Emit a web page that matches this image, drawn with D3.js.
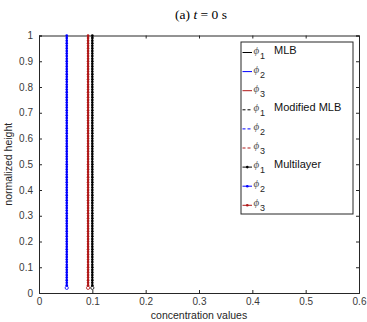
<!DOCTYPE html>
<html>
<head>
<meta charset="utf-8">
<script src="https://cdn.jsdelivr.net/npm/d3@7"></script>
<style>
  body { margin: 0; background: #fff; }
  text { font-family: "Liberation Sans", Arial, sans-serif; }
</style>
</head>
<body>
<svg id="chart" width="367" height="322"></svg>
<script>
// concentration of each component at t = 0 (constant over height)
const phiMLB = [0.1, 0.052, 0.092]
const phiModified = [0.1, 0.052, 0.092]
const phiMultilayer = [0.1, 0.052, 0.092]

// normalized heights of the layers
const heights = [
    0.02, 0.03, 0.04, 0.05, 0.06, 0.07, 0.08, 0.09, 0.10, 0.11, 0.12, 0.13, 0.14, 0.15, 0.16,
    0.17, 0.18, 0.19, 0.20, 0.21, 0.22, 0.23, 0.24, 0.25, 0.26, 0.27, 0.28, 0.29, 0.30, 0.31,
    0.32, 0.33, 0.34, 0.35, 0.36, 0.37, 0.38, 0.39, 0.40, 0.41, 0.42, 0.43, 0.44, 0.45, 0.46,
    0.47, 0.48, 0.49, 0.50, 0.51, 0.52, 0.53, 0.54, 0.55, 0.56, 0.57, 0.58, 0.59, 0.60, 0.61,
    0.62, 0.63, 0.64, 0.65, 0.66, 0.67, 0.68, 0.69, 0.70, 0.71, 0.72, 0.73, 0.74, 0.75, 0.76,
    0.77, 0.78, 0.79, 0.80, 0.81, 0.82, 0.83, 0.84, 0.85, 0.86, 0.87, 0.88, 0.89, 0.90, 0.91,
    0.92, 0.93, 0.94, 0.95, 0.96, 0.97, 0.98, 0.99, 1.00,
]

const xTicks = [0, 0.1, 0.2, 0.3, 0.4, 0.5, 0.6]
const yTicks = [0, 0.1, 0.2, 0.3, 0.4, 0.5, 0.6, 0.7, 0.8, 0.9, 1]
const componentNames = ["1", "2", "3"]
const colors = ["#000000", "#0000ff", "#b01818"]
const modelNames = ["MLB", "Modified MLB", "Multilayer"]

const svg = d3.select("#chart")
const m = { left: 39, right: 359, top: 35.5, bottom: 293 }

const x = d3.scaleLinear().domain([0, 0.6]).range([m.left, m.right])
const y = d3.scaleLinear().domain([0, 1]).range([m.bottom, m.top])

const axisColor = "#262626"
const tickFmt = (d) => (d === 0 || d === 1 ? String(d) : d.toFixed(1))

// axes with inward ticks (box on)
const ax = svg.append("g")
ax.append("g")
    .attr("transform", `translate(0,${m.bottom})`)
    .call(d3.axisBottom(x).tickValues(xTicks).tickSize(-3).tickPadding(5).tickFormat(tickFmt))
ax.append("g")
    .attr("transform", `translate(0,${m.top})`)
    .call(d3.axisTop(x).tickValues(xTicks).tickSize(-3).tickFormat(""))
ax.append("g")
    .attr("transform", `translate(${m.left},0)`)
    .call(d3.axisLeft(y).tickValues(yTicks).tickSize(-3).tickPadding(6).tickFormat(tickFmt))
ax.append("g")
    .attr("transform", `translate(${m.right},0)`)
    .call(d3.axisRight(y).tickValues(yTicks).tickSize(-3).tickFormat(""))
ax.selectAll(".domain").attr("stroke", axisColor).attr("stroke-width", 1)
ax.selectAll(".tick line").attr("stroke", axisColor)
ax.selectAll(".tick text").attr("fill", "#3a3a3a").style("font-size", "10px")
    .style("font-family", "'Liberation Sans', Arial, sans-serif")

const line = d3.line().x((d) => x(d[0])).y((d) => y(d[1]))
const plot = svg.append("g")

const order = [1, 2, 0]
// MLB: solid
order.forEach((i) => {
    plot.append("path")
        .datum(heights.map((h) => [phiMLB[i], h]))
        .attr("fill", "none").attr("stroke", colors[i]).attr("stroke-width", 1)
        .attr("d", line)
})
// Modified MLB: dashed
order.forEach((i) => {
    plot.append("path")
        .datum(heights.map((h) => [phiModified[i], h]))
        .attr("fill", "none").attr("stroke", colors[i]).attr("stroke-width", 1)
        .attr("stroke-dasharray", "3,2")
        .attr("d", line)
})
// Multilayer: line with dot markers
order.forEach((i) => {
    const pts = heights.map((h) => [phiMultilayer[i], h])
    plot.append("path")
        .datum(pts)
        .attr("fill", "none").attr("stroke", colors[i]).attr("stroke-width", 1)
        .attr("d", line)
    plot.append("g")
        .selectAll("circle")
        .data(pts)
        .join("circle")
        .attr("cx", (d) => x(d[0]))
        .attr("cy", (d) => y(d[1]))
        .attr("r", (d, k) => (k === 0 ? 1.6 : 1.3))
        .attr("fill", (d, k) => (k === 0 ? "#fff" : colors[i]))
        .attr("stroke", colors[i])
        .attr("stroke-width", (d, k) => (k === 0 ? 0.8 : 0))
})

// legend
const lg = svg.append("g")
const lgX = 241, lgY = 42, lgW = 112, lgH = 172
lg.append("rect")
    .attr("x", lgX).attr("y", lgY).attr("width", lgW).attr("height", lgH)
    .attr("fill", "#fff").attr("stroke", axisColor).attr("stroke-width", 1)

const entries = []
modelNames.forEach((name, mi) => {
    componentNames.forEach((c, ci) => {
        entries.push({ model: mi, comp: ci, label: ci === 0 ? name : "" })
    })
})

entries.forEach((e, k) => {
    const cy = 52.5 + k * 19.1
    const g = lg.append("g")
    const ln = g.append("line")
        .attr("x1", 242.5).attr("x2", 252).attr("y1", cy).attr("y2", cy)
        .attr("stroke", colors[e.comp]).attr("stroke-width", 1)
    if (e.model === 1) ln.attr("stroke-dasharray", "3,2")
    if (e.model === 2) {
        g.append("circle").attr("cx", 247.3).attr("cy", cy).attr("r", 1.3)
            .attr("fill", colors[e.comp])
    }
    const t = g.append("text").attr("x", 253.5).attr("y", cy + 1)
        .attr("fill", "#555")
    t.append("tspan").text("ϕ")
        .style("font-family", "'Liberation Serif', serif")
        .style("font-style", "italic").style("font-size", "11px")
    t.append("tspan").text(componentNames[e.comp]).attr("dy", 5).attr("dx", 0.8)
        .style("font-size", "9px").attr("fill", axisColor)
    if (e.label) {
        g.append("text").attr("x", 274).attr("y", cy + 1)
            .attr("fill", "#111").style("font-size", "11px").text(e.label)
    }
})

// labels
svg.append("text")
    .attr("x", (m.left + m.right) / 2).attr("y", 319)
    .attr("text-anchor", "middle").attr("fill", axisColor)
    .style("font-size", "10.5px").text("concentration values")
svg.append("text")
    .attr("transform", `translate(12,${(m.top + m.bottom) / 2}) rotate(-90)`)
    .attr("text-anchor", "middle").attr("fill", axisColor)
    .style("font-size", "10.5px").text("normalized height")

const title = svg.append("text")
    .attr("x", (m.left + m.right) / 2 + 2).attr("y", 19)
    .attr("text-anchor", "middle").attr("fill", "#000")
    .style("font-family", "'Liberation Serif', 'DejaVu Serif', serif").style("font-size", "13.5px")
title.append("tspan").text("(a) ")
title.append("tspan").text("t").style("font-style", "italic")
title.append("tspan").text(" = 0 s")
</script>
</body>
</html>
